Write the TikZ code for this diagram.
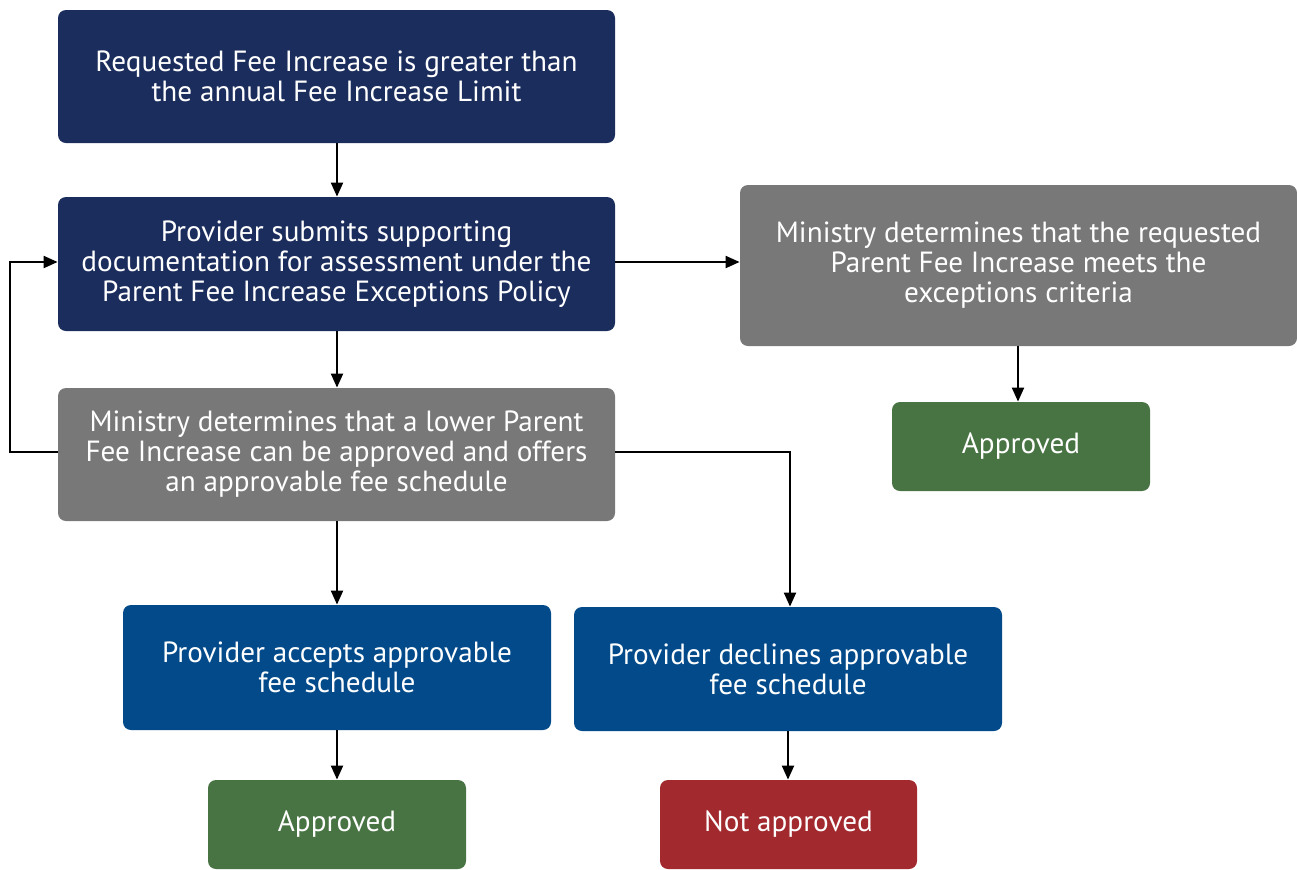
\documentclass[tikz,border=0pt]{standalone}
\usepackage{fontspec}
\setmainfont{PT Sans}
\usetikzlibrary{arrows.meta}
\definecolor{navy}{HTML}{1B2D5C}
\definecolor{midblue}{HTML}{024A8A}
\definecolor{greybox}{HTML}{787878}
\definecolor{greenbox}{HTML}{487443}
\definecolor{redbox}{HTML}{A2292E}
\tikzset{
  box/.style={rounded corners=4pt, text=white, align=center, inner sep=0pt,
    font=\fontsize{14.6}{15}\selectfont},
  conn/.style={line width=1pt, -{Triangle[length=7pt,width=6pt]}},
}
\begin{document}
\begin{tikzpicture}[x=0.5pt,y=-0.5pt]
\useasboundingbox (0,0) rectangle (1297,869);
\node[box, fill=navy, minimum width=278.5pt, minimum height=66.5pt] (req) at (336.5,76.5) {Requested Fee Increase is greater than\\the annual Fee Increase Limit};
\node[box, fill=navy, minimum width=278.5pt, minimum height=67pt] (sub) at (336.5,264) {Provider submits supporting\\documentation for assessment under the\\Parent Fee Increase Exceptions Policy};
\node[box, fill=greybox, minimum width=278.5pt, minimum height=80.5pt] (minr) at (1018.5,265.5) {Ministry determines that the requested\\Parent Fee Increase meets the\\exceptions criteria};
\node[box, fill=greenbox, minimum width=129pt, minimum height=44.5pt] (appr) at (1021,446.5) {Approved};
\node[box, fill=greybox, minimum width=278.5pt, minimum height=66.5pt] (minl) at (336.5,454.5) {Ministry determines that a lower Parent\\Fee Increase can be approved and offers\\an approvable fee schedule};
\node[box, fill=midblue, minimum width=214pt, minimum height=62.5pt] (acc) at (337,667.5) {Provider accepts approvable\\fee schedule};
\node[box, fill=midblue, minimum width=214pt, minimum height=62pt] (dec) at (788,669) {Provider declines approvable\\fee schedule};
\node[box, fill=greenbox, minimum width=129pt, minimum height=44.5pt] (appl) at (337,824.5) {Approved};
\node[box, fill=redbox, minimum width=128.5pt, minimum height=44.5pt] (nap) at (788.5,824.5) {Not approved};
\coordinate (loopa) at (10,452);
\coordinate (loopb) at (10,262);
\coordinate (decr) at (790,452);
\draw[conn] (req.south -| 337,0) -- (sub.north -| 337,0);
\draw[conn] (sub.south -| 337,0) -- (minl.north -| 337,0);
\draw[conn] (sub.east |- 0,262) -- (minr.west |- 0,262);
\draw[conn] (minr.south -| 1018,0) -- (appr.north -| 1018,0);
\draw[conn] (minl.west |- 0,452) -- (loopa) -- (loopb) -- (sub.west |- 0,262);
\draw[conn] (minl.south -| 337,0) -- (acc.north -| 337,0);
\draw[conn] (minl.east |- 0,452) -- (decr) -- (dec.north -| 790,0);
\draw[conn] (acc.south -| 337,0) -- (appl.north -| 337,0);
\draw[conn] (dec.south -| 788,0) -- (nap.north -| 788,0);
\end{tikzpicture}
\end{document}
